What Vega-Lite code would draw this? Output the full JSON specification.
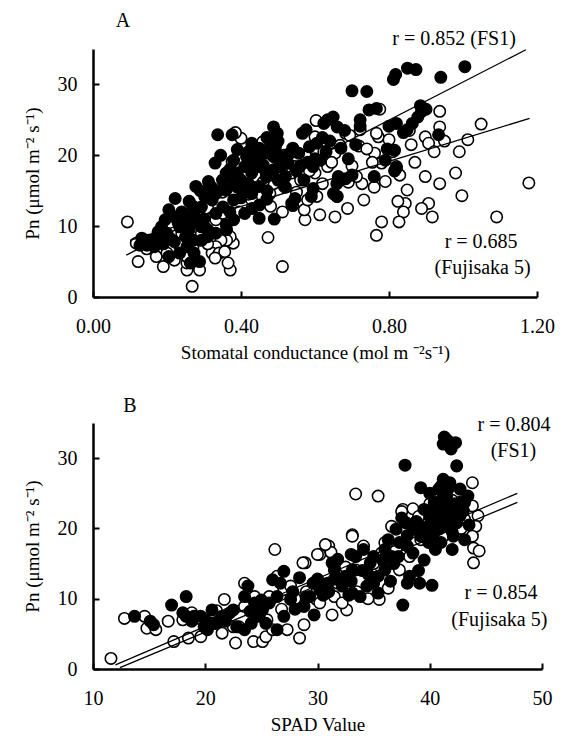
{
"$schema": "https://vega.github.io/schema/vega-lite/v6.json",
"background": "white",
"padding": {"left": 22, "top": 11, "right": 5, "bottom": 5},
"config": {
  "view": {"stroke": null},
  "font": "Liberation Serif",
  "axis": {"grid": false, "domainColor": "black", "domainWidth": 2.5, "tickColor": "black", "tickWidth": 2, "tickSize": -6, "labelFlush": false,
    "labelFont": "Liberation Serif", "labelFontSize": 20, "labelColor": "black",
    "titleFont": "Liberation Serif", "titleFontSize": 19, "titleFontWeight": "normal", "titleColor": "black"},
  "axisX": {"labelPadding": 25, "titleY": 61, "titleBaseline": "alphabetic"},
  "axisY": {"labelPadding": 22, "titleX": -55, "titleBaseline": "alphabetic"}
},
"datasets": {
  "a": [
{"g":1.178,"pn":16.1,"c":"F5"},{"g":1.091,"pn":11.3,"c":"F5"},{"g":1.049,"pn":24.4,"c":"F5"},{"g":1.013,"pn":22.2,"c":"F5"},{"g":0.997,"pn":14.3,"c":"F5"},{"g":0.98,"pn":17.5,"c":"F5"},{"g":0.937,"pn":26.2,"c":"F5"},{"g":0.937,"pn":24.0,"c":"F5"},{"g":0.937,"pn":16.0,"c":"F5"},{"g":0.898,"pn":22.6,"c":"F5"},{"g":0.907,"pn":21.7,"c":"F5"},{"g":0.922,"pn":20.5,"c":"F5"},{"g":0.898,"pn":17.0,"c":"F5"},{"g":0.907,"pn":13.2,"c":"F5"},{"g":0.917,"pn":11.3,"c":"F5"},{"g":0.888,"pn":12.5,"c":"F5"},{"g":0.849,"pn":15.1,"c":"F5"},{"g":0.844,"pn":13.2,"c":"F5"},{"g":0.824,"pn":13.5,"c":"F5"},{"g":0.839,"pn":12.0,"c":"F5"},{"g":0.827,"pn":10.6,"c":"F5"},{"g":0.82,"pn":18.4,"c":"F5"},{"g":0.829,"pn":17.2,"c":"F5"},{"g":0.79,"pn":16.3,"c":"F5"},{"g":0.78,"pn":10.6,"c":"F5"},{"g":0.766,"pn":8.7,"c":"F5"},{"g":0.771,"pn":22.6,"c":"F5"},{"g":0.761,"pn":20.3,"c":"F5"},{"g":0.78,"pn":18.9,"c":"F5"},{"g":0.80,"pn":22.2,"c":"F5"},{"g":0.766,"pn":23.1,"c":"F5"},{"g":0.722,"pn":23.6,"c":"F5"},{"g":0.719,"pn":21.3,"c":"F5"},{"g":0.732,"pn":13.7,"c":"F5"},{"g":0.727,"pn":16.0,"c":"F5"},{"g":0.712,"pn":17.0,"c":"F5"},{"g":0.688,"pn":12.5,"c":"F5"},{"g":0.683,"pn":23.1,"c":"F5"},{"g":0.668,"pn":21.4,"c":"F5"},{"g":0.654,"pn":11.3,"c":"F5"},{"g":0.654,"pn":20.3,"c":"F5"},{"g":0.613,"pn":11.6,"c":"F5"},{"g":0.605,"pn":14.2,"c":"F5"},{"g":0.60,"pn":17.5,"c":"F5"},{"g":0.629,"pn":19.3,"c":"F5"},{"g":0.634,"pn":18.4,"c":"F5"},{"g":0.624,"pn":20.5,"c":"F5"},{"g":0.603,"pn":24.9,"c":"F5"},{"g":0.60,"pn":22.6,"c":"F5"},{"g":0.573,"pn":10.9,"c":"F5"},{"g":0.571,"pn":12.3,"c":"F5"},{"g":0.561,"pn":16.5,"c":"F5"},{"g":0.58,"pn":13.7,"c":"F5"},{"g":0.512,"pn":12.0,"c":"F5"},{"g":0.512,"pn":4.3,"c":"F5"},{"g":0.473,"pn":8.4,"c":"F5"},{"g":0.449,"pn":21.2,"c":"F5"},{"g":0.459,"pn":21.9,"c":"F5"},{"g":0.40,"pn":22.4,"c":"F5"},{"g":0.385,"pn":23.2,"c":"F5"},{"g":0.376,"pn":19.1,"c":"F5"},{"g":0.371,"pn":3.8,"c":"F5"},{"g":0.379,"pn":7.6,"c":"F5"},{"g":0.371,"pn":8.5,"c":"F5"},{"g":0.361,"pn":8.0,"c":"F5"},{"g":0.346,"pn":8.0,"c":"F5"},{"g":0.332,"pn":7.1,"c":"F5"},{"g":0.322,"pn":6.2,"c":"F5"},{"g":0.341,"pn":6.2,"c":"F5"},{"g":0.356,"pn":6.4,"c":"F5"},{"g":0.288,"pn":3.8,"c":"F5"},{"g":0.254,"pn":3.8,"c":"F5"},{"g":0.254,"pn":4.8,"c":"F5"},{"g":0.268,"pn":1.5,"c":"F5"},{"g":0.254,"pn":5.7,"c":"F5"},{"g":0.22,"pn":5.2,"c":"F5"},{"g":0.19,"pn":4.3,"c":"F5"},{"g":0.171,"pn":5.7,"c":"F5"},{"g":0.176,"pn":9.2,"c":"F5"},{"g":0.122,"pn":5.0,"c":"F5"},{"g":0.117,"pn":7.6,"c":"F5"},{"g":0.093,"pn":10.6,"c":"F5"},{"g":0.293,"pn":9.0,"c":"F5"},{"g":0.332,"pn":10.9,"c":"F5"},{"g":0.351,"pn":11.8,"c":"F5"},{"g":0.429,"pn":13.7,"c":"F5"},{"g":0.478,"pn":14.6,"c":"F5"},{"g":0.488,"pn":16.0,"c":"F5"},{"g":0.517,"pn":15.6,"c":"F5"},{"g":0.537,"pn":17.5,"c":"F5"},{"g":0.546,"pn":18.4,"c":"F5"},{"g":0.576,"pn":19.8,"c":"F5"},{"g":0.775,"pn":26.5,"c":"F5"},{"g":0.694,"pn":22.8,"c":"F5"},{"g":0.74,"pn":20.9,"c":"F5"},{"g":0.755,"pn":19.0,"c":"F5"},{"g":0.70,"pn":18.5,"c":"F5"},{"g":0.645,"pn":19.0,"c":"F5"},{"g":0.515,"pn":20.0,"c":"F5"},{"g":0.49,"pn":18.0,"c":"F5"},{"g":0.44,"pn":17.0,"c":"F5"},{"g":0.42,"pn":14.5,"c":"F5"},{"g":0.395,"pn":12.0,"c":"F5"},{"g":0.30,"pn":10.0,"c":"F5"},{"g":0.31,"pn":7.5,"c":"F5"},{"g":0.27,"pn":6.9,"c":"F5"},{"g":0.23,"pn":7.5,"c":"F5"},{"g":0.2,"pn":6.2,"c":"F5"},{"g":0.16,"pn":8.0,"c":"F5"},{"g":0.145,"pn":6.8,"c":"F5"},{"g":0.31,"pn":12.5,"c":"F5"},{"g":0.48,"pn":12.8,"c":"F5"},{"g":0.55,"pn":14.8,"c":"F5"},{"g":0.66,"pn":14.2,"c":"F5"},{"g":0.69,"pn":16.2,"c":"F5"},{"g":0.76,"pn":15.5,"c":"F5"},{"g":0.81,"pn":20.5,"c":"F5"},{"g":0.86,"pn":21.5,"c":"F5"},{"g":0.87,"pn":19.0,"c":"F5"},{"g":0.95,"pn":22.0,"c":"F5"},{"g":0.99,"pn":20.5,"c":"F5"},{"g":0.855,"pn":23.5,"c":"F5"},{"g":0.62,"pn":16.0,"c":"F5"},{"g":0.585,"pn":17.8,"c":"F5"},{"g":0.46,"pn":16.2,"c":"F5"},{"g":0.35,"pn":14.8,"c":"F5"},{"g":0.27,"pn":11.0,"c":"F5"},{"g":0.24,"pn":9.0,"c":"F5"},{"g":0.33,"pn":5.5,"c":"F5"},{"g":0.365,"pn":4.8,"c":"F5"},
{"g":1.005,"pn":32.5,"c":"FS1"},{"g":0.94,"pn":31.0,"c":"FS1"},{"g":0.85,"pn":32.3,"c":"FS1"},{"g":0.873,"pn":32.1,"c":"FS1"},{"g":0.818,"pn":31.4,"c":"FS1"},{"g":0.812,"pn":30.7,"c":"FS1"},{"g":0.70,"pn":29.1,"c":"FS1"},{"g":0.74,"pn":29.0,"c":"FS1"},{"g":0.766,"pn":26.6,"c":"FS1"},{"g":0.746,"pn":26.4,"c":"FS1"},{"g":0.722,"pn":25.0,"c":"FS1"},{"g":0.722,"pn":24.1,"c":"FS1"},{"g":0.888,"pn":26.2,"c":"FS1"},{"g":0.878,"pn":25.4,"c":"FS1"},{"g":0.863,"pn":24.5,"c":"FS1"},{"g":0.849,"pn":23.6,"c":"FS1"},{"g":0.839,"pn":23.2,"c":"FS1"},{"g":0.80,"pn":24.1,"c":"FS1"},{"g":0.934,"pn":22.9,"c":"FS1"},{"g":0.815,"pn":20.7,"c":"FS1"},{"g":0.79,"pn":19.3,"c":"FS1"},{"g":0.82,"pn":18.2,"c":"FS1"},{"g":0.76,"pn":17.0,"c":"FS1"},{"g":0.70,"pn":17.2,"c":"FS1"},{"g":0.683,"pn":16.7,"c":"FS1"},{"g":0.659,"pn":16.0,"c":"FS1"},{"g":0.659,"pn":14.2,"c":"FS1"},{"g":0.65,"pn":14.6,"c":"FS1"},{"g":0.663,"pn":17.0,"c":"FS1"},{"g":0.595,"pn":15.3,"c":"FS1"},{"g":0.59,"pn":14.2,"c":"FS1"},{"g":0.537,"pn":13.2,"c":"FS1"},{"g":0.546,"pn":13.9,"c":"FS1"},{"g":0.566,"pn":23.1,"c":"FS1"},{"g":0.576,"pn":23.6,"c":"FS1"},{"g":0.624,"pn":24.5,"c":"FS1"},{"g":0.649,"pn":25.4,"c":"FS1"},{"g":0.634,"pn":25.0,"c":"FS1"},{"g":0.488,"pn":24.0,"c":"FS1"},{"g":0.498,"pn":23.1,"c":"FS1"},{"g":0.493,"pn":21.2,"c":"FS1"},{"g":0.429,"pn":21.7,"c":"FS1"},{"g":0.42,"pn":20.5,"c":"FS1"},{"g":0.415,"pn":19.8,"c":"FS1"},{"g":0.449,"pn":21.0,"c":"FS1"},{"g":0.468,"pn":20.3,"c":"FS1"},{"g":0.488,"pn":19.8,"c":"FS1"},{"g":0.337,"pn":22.9,"c":"FS1"},{"g":0.376,"pn":22.9,"c":"FS1"},{"g":0.330,"pn":18.9,"c":"FS1"},{"g":0.38,"pn":16.3,"c":"FS1"},{"g":0.36,"pn":15.1,"c":"FS1"},{"g":0.39,"pn":17.5,"c":"FS1"},{"g":0.40,"pn":16.5,"c":"FS1"},{"g":0.312,"pn":16.3,"c":"FS1"},{"g":0.278,"pn":15.6,"c":"FS1"},{"g":0.302,"pn":14.2,"c":"FS1"},{"g":0.222,"pn":13.9,"c":"FS1"},{"g":0.205,"pn":12.3,"c":"FS1"},{"g":0.195,"pn":10.9,"c":"FS1"},{"g":0.185,"pn":9.9,"c":"FS1"},{"g":0.176,"pn":9.0,"c":"FS1"},{"g":0.215,"pn":11.4,"c":"FS1"},{"g":0.132,"pn":8.3,"c":"FS1"},{"g":0.127,"pn":7.3,"c":"FS1"},{"g":0.146,"pn":7.3,"c":"FS1"},{"g":0.166,"pn":7.1,"c":"FS1"},{"g":0.234,"pn":9.9,"c":"FS1"},{"g":0.254,"pn":10.9,"c":"FS1"},{"g":0.273,"pn":11.8,"c":"FS1"},{"g":0.293,"pn":12.7,"c":"FS1"},{"g":0.322,"pn":13.7,"c":"FS1"},{"g":0.351,"pn":12.7,"c":"FS1"},{"g":0.38,"pn":13.7,"c":"FS1"},{"g":0.429,"pn":14.6,"c":"FS1"},{"g":0.449,"pn":15.6,"c":"FS1"},{"g":0.468,"pn":17.0,"c":"FS1"},{"g":0.488,"pn":17.9,"c":"FS1"},{"g":0.507,"pn":18.4,"c":"FS1"},{"g":0.527,"pn":18.9,"c":"FS1"},{"g":0.556,"pn":20.3,"c":"FS1"},{"g":0.585,"pn":21.2,"c":"FS1"},{"g":0.605,"pn":21.7,"c":"FS1"},{"g":0.449,"pn":11.1,"c":"FS1"},{"g":0.449,"pn":18.4,"c":"FS1"},{"g":0.41,"pn":18.4,"c":"FS1"},{"g":0.38,"pn":19.3,"c":"FS1"},{"g":0.429,"pn":17.5,"c":"FS1"},{"g":0.254,"pn":7.1,"c":"FS1"},{"g":0.273,"pn":6.2,"c":"FS1"},{"g":0.293,"pn":8.0,"c":"FS1"},{"g":0.332,"pn":9.0,"c":"FS1"},{"g":0.361,"pn":9.5,"c":"FS1"},{"g":0.205,"pn":5.7,"c":"FS1"},{"g":0.234,"pn":6.2,"c":"FS1"},{"g":0.263,"pn":4.8,"c":"FS1"},{"g":0.288,"pn":5.0,"c":"FS1"},{"g":0.795,"pn":20.9,"c":"FS1"},{"g":0.595,"pn":18.4,"c":"FS1"},{"g":0.615,"pn":19.3,"c":"FS1"},{"g":0.38,"pn":10.9,"c":"FS1"},{"g":0.41,"pn":11.8,"c":"FS1"},{"g":0.332,"pn":11.8,"c":"FS1"},{"g":0.293,"pn":9.9,"c":"FS1"},{"g":0.25,"pn":8.5,"c":"FS1"},{"g":0.22,"pn":7.8,"c":"FS1"},{"g":0.19,"pn":7.5,"c":"FS1"},{"g":0.2,"pn":9.0,"c":"FS1"},{"g":0.24,"pn":12.0,"c":"FS1"},{"g":0.26,"pn":13.5,"c":"FS1"},{"g":0.3,"pn":11.0,"c":"FS1"},{"g":0.34,"pn":15.0,"c":"FS1"},{"g":0.37,"pn":12.0,"c":"FS1"},{"g":0.4,"pn":14.0,"c":"FS1"},{"g":0.42,"pn":16.0,"c":"FS1"},{"g":0.45,"pn":13.0,"c":"FS1"},{"g":0.47,"pn":15.0,"c":"FS1"},{"g":0.5,"pn":16.5,"c":"FS1"},{"g":0.52,"pn":17.0,"c":"FS1"},{"g":0.55,"pn":17.8,"c":"FS1"},{"g":0.57,"pn":16.5,"c":"FS1"},{"g":0.6,"pn":19.5,"c":"FS1"},{"g":0.62,"pn":22.5,"c":"FS1"},{"g":0.64,"pn":22.0,"c":"FS1"},{"g":0.68,"pn":23.5,"c":"FS1"},{"g":0.66,"pn":24.0,"c":"FS1"},{"g":0.71,"pn":21.5,"c":"FS1"},{"g":0.54,"pn":21.0,"c":"FS1"},{"g":0.51,"pn":19.8,"c":"FS1"},{"g":0.47,"pn":22.5,"c":"FS1"},{"g":0.44,"pn":19.5,"c":"FS1"},{"g":0.36,"pn":17.5,"c":"FS1"},{"g":0.32,"pn":15.5,"c":"FS1"},{"g":0.28,"pn":10.5,"c":"FS1"},{"g":0.26,"pn":9.5,"c":"FS1"},{"g":0.31,"pn":8.5,"c":"FS1"},{"g":0.16,"pn":7.8,"c":"FS1"},{"g":0.21,"pn":8.2,"c":"FS1"},{"g":0.345,"pn":20.0,"c":"FS1"},{"g":0.39,"pn":20.8,"c":"FS1"},{"g":0.46,"pn":18.6,"c":"FS1"},{"g":0.82,"pn":24.5,"c":"FS1"},{"g":0.885,"pn":27.0,"c":"FS1"},{"g":0.9,"pn":26.5,"c":"FS1"},{"g":0.815,"pn":17.8,"c":"FS1"},{"g":0.49,"pn":11.0,"c":"FS1"},{"g":0.54,"pn":12.9,"c":"FS1"},
{"g":0.23,"pn":10.5,"c":"FS1"},{"g":0.27,"pn":12.8,"c":"FS1"},{"g":0.29,"pn":15.0,"c":"FS1"},{"g":0.33,"pn":14.5,"c":"FS1"},{"g":0.35,"pn":16.5,"c":"FS1"},{"g":0.37,"pn":18.0,"c":"FS1"},{"g":0.41,"pn":15.2,"c":"FS1"},{"g":0.43,"pn":18.8,"c":"FS1"},{"g":0.45,"pn":20.0,"c":"FS1"},{"g":0.48,"pn":21.5,"c":"FS1"},{"g":0.5,"pn":22.0,"c":"FS1"},{"g":0.53,"pn":20.2,"c":"FS1"},{"g":0.56,"pn":18.5,"c":"FS1"},{"g":0.58,"pn":19.0,"c":"FS1"},{"g":0.52,"pn":15.5,"c":"FS1"},{"g":0.43,"pn":12.5,"c":"FS1"},{"g":0.36,"pn":10.2,"c":"FS1"},{"g":0.31,"pn":9.5,"c":"FS1"},{"g":0.27,"pn":8.0,"c":"FS1"},{"g":0.18,"pn":8.3,"c":"FS1"},{"g":0.15,"pn":8.0,"c":"FS1"},{"g":0.14,"pn":7.5,"c":"FS1"},{"g":0.39,"pn":15.5,"c":"FS1"},{"g":0.47,"pn":13.8,"c":"FS1"},{"g":0.63,"pn":20.5,"c":"FS1"},{"g":0.67,"pn":21.0,"c":"FS1"},{"g":0.69,"pn":19.5,"c":"FS1"}
  ],
  "b": [
{"s":11.6,"pn":1.5,"c":"F5"},{"s":12.8,"pn":7.2,"c":"F5"},{"s":14.6,"pn":7.5,"c":"F5"},{"s":14.8,"pn":5.8,"c":"F5"},{"s":15.6,"pn":5.6,"c":"F5"},{"s":16.7,"pn":6.8,"c":"F5"},{"s":17.2,"pn":3.9,"c":"F5"},{"s":18.5,"pn":4.4,"c":"F5"},{"s":18.0,"pn":7.0,"c":"F5"},{"s":18.8,"pn":8.0,"c":"F5"},{"s":19.6,"pn":4.6,"c":"F5"},{"s":21.7,"pn":9.9,"c":"F5"},{"s":21.5,"pn":5.1,"c":"F5"},{"s":20.6,"pn":6.5,"c":"F5"},{"s":22.7,"pn":3.7,"c":"F5"},{"s":22.5,"pn":6.0,"c":"F5"},{"s":23.5,"pn":12.2,"c":"F5"},{"s":23.5,"pn":8.9,"c":"F5"},{"s":24.4,"pn":10.3,"c":"F5"},{"s":24.3,"pn":3.9,"c":"F5"},{"s":25.1,"pn":3.9,"c":"F5"},{"s":25.4,"pn":4.6,"c":"F5"},{"s":26.0,"pn":5.6,"c":"F5"},{"s":26.2,"pn":17.0,"c":"F5"},{"s":24.4,"pn":8.4,"c":"F5"},{"s":27.3,"pn":5.6,"c":"F5"},{"s":28.4,"pn":4.4,"c":"F5"},{"s":28.8,"pn":6.3,"c":"F5"},{"s":28.9,"pn":15.1,"c":"F5"},{"s":30.2,"pn":16.3,"c":"F5"},{"s":31.0,"pn":17.5,"c":"F5"},{"s":31.2,"pn":16.6,"c":"F5"},{"s":31.3,"pn":7.7,"c":"F5"},{"s":32.6,"pn":8.4,"c":"F5"},{"s":33.1,"pn":19.1,"c":"F5"},{"s":33.4,"pn":24.9,"c":"F5"},{"s":35.4,"pn":24.6,"c":"F5"},{"s":34.1,"pn":17.5,"c":"F5"},{"s":35.5,"pn":9.9,"c":"F5"},{"s":36.3,"pn":11.5,"c":"F5"},{"s":37.6,"pn":22.7,"c":"F5"},{"s":39.1,"pn":21.8,"c":"F5"},{"s":40.1,"pn":21.3,"c":"F5"},{"s":40.4,"pn":24.1,"c":"F5"},{"s":40.6,"pn":24.6,"c":"F5"},{"s":43.8,"pn":26.5,"c":"F5"},{"s":43.8,"pn":23.2,"c":"F5"},{"s":44.3,"pn":21.8,"c":"F5"},{"s":44.1,"pn":20.3,"c":"F5"},{"s":43.8,"pn":18.9,"c":"F5"},{"s":43.9,"pn":17.2,"c":"F5"},{"s":44.4,"pn":16.8,"c":"F5"},{"s":43.9,"pn":15.1,"c":"F5"},{"s":37.3,"pn":14.1,"c":"F5"},{"s":38.2,"pn":16.0,"c":"F5"},{"s":39.2,"pn":18.4,"c":"F5"},{"s":33.4,"pn":14.1,"c":"F5"},{"s":31.8,"pn":12.2,"c":"F5"},{"s":29.9,"pn":9.9,"c":"F5"},{"s":42.4,"pn":22.7,"c":"F5"},{"s":43.1,"pn":21.3,"c":"F5"},{"s":41.8,"pn":19.9,"c":"F5"},{"s":41.2,"pn":18.9,"c":"F5"},{"s":40.4,"pn":21.8,"c":"F5"},{"s":30.2,"pn":9.4,"c":"F5"},{"s":31.5,"pn":10.3,"c":"F5"},{"s":32.2,"pn":9.4,"c":"F5"},{"s":34.7,"pn":12.2,"c":"F5"},{"s":36.6,"pn":20.3,"c":"F5"},{"s":35.7,"pn":16.5,"c":"F5"},{"s":27.0,"pn":11.3,"c":"F5"},{"s":26.4,"pn":13.2,"c":"F5"},{"s":27.6,"pn":11.8,"c":"F5"},{"s":25.7,"pn":10.3,"c":"F5"},{"s":38.5,"pn":22.8,"c":"F5"},{"s":39.5,"pn":22.5,"c":"F5"},{"s":40.0,"pn":23.5,"c":"F5"},{"s":41.0,"pn":22.0,"c":"F5"},{"s":42.0,"pn":24.0,"c":"F5"},{"s":42.8,"pn":20.0,"c":"F5"},{"s":41.5,"pn":21.0,"c":"F5"},{"s":36.0,"pn":18.0,"c":"F5"},{"s":37.0,"pn":17.0,"c":"F5"},{"s":35.0,"pn":15.0,"c":"F5"},{"s":32.5,"pn":14.5,"c":"F5"},{"s":30.5,"pn":12.0,"c":"F5"},{"s":29.0,"pn":11.0,"c":"F5"},{"s":28.0,"pn":10.0,"c":"F5"},{"s":26.8,"pn":8.5,"c":"F5"},{"s":25.5,"pn":7.0,"c":"F5"},{"s":22.0,"pn":7.8,"c":"F5"},{"s":21.0,"pn":8.3,"c":"F5"},{"s":19.5,"pn":7.2,"c":"F5"},{"s":23.0,"pn":6.0,"c":"F5"},{"s":34.5,"pn":10.0,"c":"F5"},{"s":33.5,"pn":11.0,"c":"F5"},{"s":30.7,"pn":17.7,"c":"F5"},{"s":33.1,"pn":18.9,"c":"F5"},{"s":37.5,"pn":22.4,"c":"F5"},{"s":39.0,"pn":21.7,"c":"F5"},{"s":28.7,"pn":15.1,"c":"F5"},{"s":30.0,"pn":16.3,"c":"F5"},
{"s":41.3,"pn":33.0,"c":"FS1"},{"s":41.6,"pn":32.5,"c":"FS1"},{"s":42.3,"pn":32.2,"c":"FS1"},{"s":41.9,"pn":31.3,"c":"FS1"},{"s":41.2,"pn":32.0,"c":"FS1"},{"s":42.4,"pn":28.9,"c":"FS1"},{"s":37.8,"pn":29.0,"c":"FS1"},{"s":39.2,"pn":25.8,"c":"FS1"},{"s":41.2,"pn":27.0,"c":"FS1"},{"s":41.8,"pn":26.5,"c":"FS1"},{"s":40.8,"pn":25.6,"c":"FS1"},{"s":41.5,"pn":24.6,"c":"FS1"},{"s":42.7,"pn":25.6,"c":"FS1"},{"s":43.4,"pn":24.6,"c":"FS1"},{"s":43.1,"pn":23.7,"c":"FS1"},{"s":40.4,"pn":23.7,"c":"FS1"},{"s":41.2,"pn":22.7,"c":"FS1"},{"s":41.8,"pn":21.8,"c":"FS1"},{"s":42.4,"pn":20.8,"c":"FS1"},{"s":41.5,"pn":20.3,"c":"FS1"},{"s":40.8,"pn":19.9,"c":"FS1"},{"s":42.1,"pn":18.9,"c":"FS1"},{"s":43.1,"pn":18.4,"c":"FS1"},{"s":42.7,"pn":21.8,"c":"FS1"},{"s":40.2,"pn":20.3,"c":"FS1"},{"s":39.9,"pn":18.0,"c":"FS1"},{"s":39.2,"pn":18.9,"c":"FS1"},{"s":38.6,"pn":19.9,"c":"FS1"},{"s":37.9,"pn":20.8,"c":"FS1"},{"s":36.3,"pn":18.4,"c":"FS1"},{"s":40.2,"pn":11.9,"c":"FS1"},{"s":39.1,"pn":12.2,"c":"FS1"},{"s":38.2,"pn":13.2,"c":"FS1"},{"s":37.6,"pn":9.1,"c":"FS1"},{"s":38.0,"pn":12.2,"c":"FS1"},{"s":36.6,"pn":16.0,"c":"FS1"},{"s":36.0,"pn":14.1,"c":"FS1"},{"s":35.4,"pn":13.2,"c":"FS1"},{"s":35.0,"pn":12.2,"c":"FS1"},{"s":34.7,"pn":15.1,"c":"FS1"},{"s":34.1,"pn":17.0,"c":"FS1"},{"s":33.4,"pn":16.0,"c":"FS1"},{"s":33.1,"pn":14.1,"c":"FS1"},{"s":32.5,"pn":13.2,"c":"FS1"},{"s":32.2,"pn":11.8,"c":"FS1"},{"s":31.5,"pn":14.1,"c":"FS1"},{"s":30.9,"pn":12.2,"c":"FS1"},{"s":30.2,"pn":11.3,"c":"FS1"},{"s":29.6,"pn":12.2,"c":"FS1"},{"s":29.3,"pn":10.3,"c":"FS1"},{"s":31.8,"pn":15.6,"c":"FS1"},{"s":33.0,"pn":16.3,"c":"FS1"},{"s":34.4,"pn":11.8,"c":"FS1"},{"s":33.8,"pn":10.3,"c":"FS1"},{"s":33.1,"pn":10.8,"c":"FS1"},{"s":35.4,"pn":10.8,"c":"FS1"},{"s":37.0,"pn":19.9,"c":"FS1"},{"s":37.3,"pn":18.0,"c":"FS1"},{"s":31.3,"pn":15.1,"c":"FS1"},{"s":28.8,"pn":8.9,"c":"FS1"},{"s":29.7,"pn":7.7,"c":"FS1"},{"s":28.4,"pn":13.0,"c":"FS1"},{"s":27.0,"pn":13.9,"c":"FS1"},{"s":26.7,"pn":12.2,"c":"FS1"},{"s":26.4,"pn":10.3,"c":"FS1"},{"s":25.7,"pn":9.4,"c":"FS1"},{"s":26.4,"pn":5.6,"c":"FS1"},{"s":25.4,"pn":6.5,"c":"FS1"},{"s":26.0,"pn":12.7,"c":"FS1"},{"s":23.8,"pn":11.8,"c":"FS1"},{"s":23.5,"pn":10.3,"c":"FS1"},{"s":24.4,"pn":9.4,"c":"FS1"},{"s":24.1,"pn":6.5,"c":"FS1"},{"s":23.5,"pn":5.6,"c":"FS1"},{"s":22.8,"pn":6.0,"c":"FS1"},{"s":22.2,"pn":8.0,"c":"FS1"},{"s":21.5,"pn":7.5,"c":"FS1"},{"s":20.6,"pn":8.4,"c":"FS1"},{"s":20.9,"pn":6.5,"c":"FS1"},{"s":20.2,"pn":5.6,"c":"FS1"},{"s":19.6,"pn":7.5,"c":"FS1"},{"s":19.0,"pn":7.5,"c":"FS1"},{"s":18.3,"pn":7.5,"c":"FS1"},{"s":18.8,"pn":6.8,"c":"FS1"},{"s":18.3,"pn":10.3,"c":"FS1"},{"s":17.0,"pn":9.1,"c":"FS1"},{"s":15.4,"pn":6.3,"c":"FS1"},{"s":13.7,"pn":7.5,"c":"FS1"},{"s":15.1,"pn":6.8,"c":"FS1"},{"s":22.5,"pn":8.4,"c":"FS1"},{"s":25.1,"pn":8.4,"c":"FS1"},{"s":27.6,"pn":9.9,"c":"FS1"},{"s":39.5,"pn":22.7,"c":"FS1"},{"s":40.1,"pn":20.8,"c":"FS1"},{"s":36.8,"pn":15.0,"c":"FS1"},{"s":38.5,"pn":16.5,"c":"FS1"},{"s":39.5,"pn":15.5,"c":"FS1"},{"s":40.5,"pn":17.0,"c":"FS1"},{"s":41.0,"pn":18.0,"c":"FS1"},{"s":42.0,"pn":17.0,"c":"FS1"},{"s":43.5,"pn":20.5,"c":"FS1"},{"s":43.0,"pn":22.5,"c":"FS1"},{"s":42.2,"pn":23.5,"c":"FS1"},{"s":40.0,"pn":25.0,"c":"FS1"},{"s":41.0,"pn":26.0,"c":"FS1"},{"s":41.5,"pn":23.5,"c":"FS1"},{"s":38.0,"pn":17.5,"c":"FS1"},{"s":37.5,"pn":21.5,"c":"FS1"},{"s":36.0,"pn":17.0,"c":"FS1"},{"s":35.0,"pn":16.0,"c":"FS1"},{"s":34.0,"pn":14.0,"c":"FS1"},{"s":32.0,"pn":12.8,"c":"FS1"},{"s":30.5,"pn":10.5,"c":"FS1"},{"s":28.0,"pn":8.5,"c":"FS1"},{"s":27.0,"pn":7.5,"c":"FS1"},{"s":24.8,"pn":7.5,"c":"FS1"},{"s":21.0,"pn":6.5,"c":"FS1"},{"s":19.9,"pn":6.0,"c":"FS1"},{"s":30.0,"pn":12.8,"c":"FS1"},{"s":31.0,"pn":11.0,"c":"FS1"},{"s":32.8,"pn":10.5,"c":"FS1"},{"s":36.5,"pn":12.5,"c":"FS1"},{"s":39.0,"pn":14.0,"c":"FS1"},{"s":38.8,"pn":21.0,"c":"FS1"},{"s":39.8,"pn":19.5,"c":"FS1"},{"s":40.9,"pn":21.3,"c":"FS1"},
{"s":41.0,"pn":24.0,"c":"FS1"},{"s":41.8,"pn":23.0,"c":"FS1"},{"s":42.5,"pn":22.0,"c":"FS1"},{"s":40.5,"pn":22.5,"c":"FS1"},{"s":41.3,"pn":21.5,"c":"FS1"},{"s":42.0,"pn":19.5,"c":"FS1"},{"s":40.0,"pn":21.8,"c":"FS1"},{"s":39.3,"pn":20.2,"c":"FS1"},{"s":42.8,"pn":23.8,"c":"FS1"},{"s":41.6,"pn":25.5,"c":"FS1"},{"s":40.3,"pn":19.0,"c":"FS1"},{"s":38.0,"pn":19.0,"c":"FS1"},{"s":37.2,"pn":16.0,"c":"FS1"},{"s":35.8,"pn":15.5,"c":"FS1"},{"s":34.5,"pn":13.5,"c":"FS1"},{"s":33.0,"pn":12.5,"c":"FS1"},{"s":31.5,"pn":12.8,"c":"FS1"},{"s":29.0,"pn":10.2,"c":"FS1"},{"s":27.8,"pn":11.0,"c":"FS1"},{"s":25.0,"pn":9.8,"c":"FS1"},{"s":24.0,"pn":8.2,"c":"FS1"},{"s":21.8,"pn":6.8,"c":"FS1"},{"s":20.0,"pn":7.0,"c":"FS1"},{"s":18.0,"pn":8.0,"c":"FS1"}
  ],
  "la": [{"g":0.09,"pn":5.9,"l":"FS1"},{"g":1.17,"pn":34.9,"l":"FS1"},{"g":0.1,"pn":8.0,"l":"F5"},{"g":1.18,"pn":25.2,"l":"F5"}],
  "lb": [{"s":12.0,"pn":0.6,"l":"FS1"},{"s":47.8,"pn":25.0,"l":"FS1"},{"s":12.4,"pn":0.2,"l":"F5"},{"s":47.8,"pn":23.7,"l":"F5"}],
  "ta": [{"g":0.976,"pn":35.6,"t":"r = 0.852 (FS1)"},{"g":1.049,"pn":6.9,"t":"r = 0.685"},{"g":1.053,"pn":3.25,"t":"(Fujisaka 5)"},{"g":0.081,"pn":38.1,"t":"A"}],
  "tb": [{"s":47.5,"pn":33.9,"t":"r = 0.804"},{"s":47.46,"pn":30.1,"t":"(FS1)"},{"s":46.35,"pn":9.9,"t":"r = 0.854"},{"s":46.2,"pn":6.1,"t":"(Fujisaka 5)"},{"s":13.3,"pn":36.6,"t":"B"}]
},
"spacing": 126,
"bounds": "flush",
"vconcat": [
  {
    "width": 444, "height": 248,
    "layer": [
      {"data": {"name": "a"}, "mark": {"type": "point", "filled": true, "stroke": "black", "strokeWidth": 1.6, "size": 130, "opacity": 1, "shape": "circle"},
       "encoding": {
         "x": {"field": "g", "type": "quantitative", "scale": {"domain": [0, 1.2], "nice": false, "zero": false}, "axis": {"values": [0, 0.4, 0.8, 1.2], "format": ".2f", "title": "Stomatal conductance (mol m \u207b\u00b2s\u207b\u00b9)"}},
         "y": {"field": "pn", "type": "quantitative", "scale": {"domain": [0, 35], "nice": false}, "axis": {"values": [0, 10, 20, 30], "title": "Pn (\u03bcmol m\u207b\u00b2 s\u207b\u00b9)"}},
         "fill": {"field": "c", "type": "nominal", "scale": {"domain": ["F5", "FS1"], "range": ["white", "black"]}, "legend": null}
       }},
      {"data": {"name": "la"}, "mark": {"type": "line", "color": "black", "strokeWidth": 1.3},
       "encoding": {"x": {"field": "g", "type": "quantitative"}, "y": {"field": "pn", "type": "quantitative"}, "detail": {"field": "l"}}},
      {"data": {"name": "ta"}, "mark": {"type": "text", "font": "Liberation Serif", "fontSize": 20, "align": "center", "baseline": "alphabetic", "color": "black"},
       "encoding": {"x": {"field": "g", "type": "quantitative"}, "y": {"field": "pn", "type": "quantitative"}, "text": {"field": "t"}}}
    ]
  },
  {
    "width": 449, "height": 246,
    "layer": [
      {"data": {"name": "b"}, "mark": {"type": "point", "filled": true, "stroke": "black", "strokeWidth": 1.6, "size": 130, "opacity": 1, "shape": "circle"},
       "encoding": {
         "x": {"field": "s", "type": "quantitative", "scale": {"domain": [10, 50], "nice": false, "zero": false}, "axis": {"values": [10, 20, 30, 40, 50], "format": "d", "title": "SPAD Value"}},
         "y": {"field": "pn", "type": "quantitative", "scale": {"domain": [0, 35], "nice": false}, "axis": {"values": [0, 10, 20, 30], "title": "Pn (\u03bcmol m\u207b\u00b2 s\u207b\u00b9)"}},
         "fill": {"field": "c", "type": "nominal", "scale": {"domain": ["F5", "FS1"], "range": ["white", "black"]}, "legend": null}
       }},
      {"data": {"name": "lb"}, "mark": {"type": "line", "color": "black", "strokeWidth": 1.3},
       "encoding": {"x": {"field": "s", "type": "quantitative"}, "y": {"field": "pn", "type": "quantitative"}, "detail": {"field": "l"}}},
      {"data": {"name": "tb"}, "mark": {"type": "text", "font": "Liberation Serif", "fontSize": 20, "align": "center", "baseline": "alphabetic", "color": "black"},
       "encoding": {"x": {"field": "s", "type": "quantitative"}, "y": {"field": "pn", "type": "quantitative"}, "text": {"field": "t"}}}
    ]
  }
]
}
